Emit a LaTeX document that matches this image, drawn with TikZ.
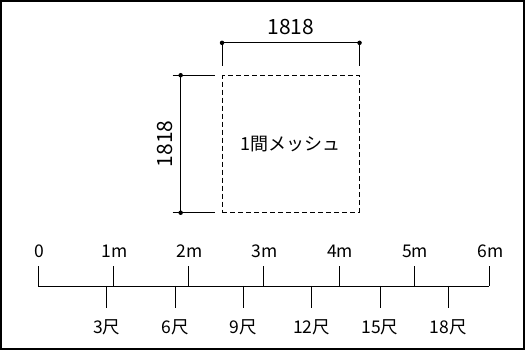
\documentclass[tikz,border=0pt]{standalone}
\usepackage{fontspec}
\setmainfont{Noto Sans CJK JP}
\usetikzlibrary{calc}

\begin{document}
\begin{tikzpicture}[x=1pt,y=1pt,line width=0.8pt,
  dot/.style={circle,fill,inner sep=0pt,minimum size=4.5pt},
  lbl/.style={font=\fontsize{17.5}{17.5}\selectfont,inner sep=0pt},
  dimtxt/.style={font=\fontsize{21}{21}\selectfont,inner sep=0pt}]
\useasboundingbox (0,0) rectangle (525,350);
\draw[line width=1.2pt] (1,1) rectangle (524,349);

% mesh
\node[draw,dash pattern=on 5pt off 3pt,minimum size=136.7pt,inner sep=0pt,
  font=\fontsize{18}{18}\selectfont] (mesh) at (290.8,206) {1間メッシュ};

% top dimension
\coordinate (ta) at ($(mesh.north west)+(0,32.4)$);
\coordinate (tb) at ($(mesh.north east)+(0,32.4)$);
\draw (ta) -- (tb);
\draw (ta) -- ++(0,-23.4);
\draw (tb) -- ++(0,-23.4);
\node[dot] (tad) at (ta) {};
\node[dot] (tbd) at (tb) {};
\node[dimtxt] (tw) at ($(ta)!0.5!(tb)+(0,16)$) {1818};

% left dimension
\coordinate (la) at ($(mesh.north west)+(-41.4,0)$);
\coordinate (lb) at ($(mesh.south west)+(-41.4,0)$);
\draw (la) -- (lb);
\draw (la) ++(-8,0) -- ++(42,0);
\draw (lb) ++(-8,0) -- ++(42,0);
\node[dot] (lad) at (la) {};
\node[dot] (lbd) at (lb) {};
\node[dimtxt,rotate=90] (lw) at ($(la)!0.5!(lb)+(-16,0)$) {1818};

% scale
\coordinate (r0) at (38.3,64);
\coordinate (r6) at (489.3,64);
\draw (r0) -- (r6);
\foreach \i/\t in {0/0,1/1m,2/2m,3/3m,4/4m,5/5m,6/6m}{
  \coordinate (m\i) at ($(r0)!{\i/6}!(r6)$);
  \draw (m\i) -- ++(0,20);
  \node[lbl] (ml\i) at ($(m\i)+(1,35)$) {\t};
}
\foreach \k in {1,...,6}{
  \coordinate (s\k) at ($(r0)!{\k*0.90909/6}!(r6)$);
  \draw (s\k) -- ++(0,-22);
  \node[lbl] (sl\k) at ($(s\k)+(0,-41)$) {\the\numexpr3*\k\relax 尺};
}
\end{tikzpicture}
\end{document}
